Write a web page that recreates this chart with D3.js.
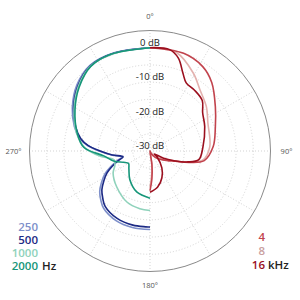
<!DOCTYPE html>
<html>
<head>
<meta charset="utf-8">
<script src="https://cdn.jsdelivr.net/npm/d3@7"></script>
<style>
  body { margin: 0; background: #fff; }
  svg { display: block; font-family: "Open Sans", "DejaVu Sans", sans-serif; }
</style>
</head>
<body>
<div id="chart"></div>
<script>
// angles in degrees from front (0) to back (180), values in dB
// left half: low frequencies, drawn counter-clockwise
var hz250 = [[0,0],[20,0.4],[35,0.4],[48,-1.4],[61,-4.2],[72,-6.9],[80,-9.3],[85,-11.8],[90,-15.3],[96,-18.8],[102,-21.6],[107,-19.8],[112,-17.6],[117,-15.3],[123,-13.2],[129,-11.2],[135,-9.8],[141,-8.6],[154,-7.5],[167,-7.2],[180,-7.2]];
var hz500 = [[0,0],[20,0.3],[35,0.2],[48,-1.8],[61,-4.6],[72,-7.3],[80,-9.6],[85,-12],[90,-15.5],[96,-19],[102,-22],[107,-20.3],[112,-18.2],[117,-16],[123,-14],[129,-12],[135,-10.6],[141,-9.3],[154,-8.2],[167,-7.9],[180,-7.9]];
var hz1000 = [[0,0],[20,0.2],[35,0.1],[48,-2],[61,-4.8],[76,-8],[87,-11],[96,-15.5],[104,-19.3],[112,-19],[121,-17.5],[137,-15.8],[156,-13.7],[170,-13],[180,-12.7]];
var hz2000 = [[0,0],[22,0.3],[35,0],[48,-2.3],[61,-5.1],[76,-8.2],[87,-10.8],[96,-16.5],[106,-19.2],[113,-21.6],[120,-22.8],[130,-22],[145,-19.8],[162,-17.5],[180,-16.3]];
// right half: high frequencies, drawn clockwise
var khz4 = [[0,0],[19,0],[32,-1.1],[42,-3.2],[56,-7.1],[70,-9.8],[86,-11.6],[100,-14],[106,-18],[112,-22],[125,-25.5],[140,-27.5],[155,-29.2],[166,-30],[172,-26],[176,-22],[180,-18.5]];
var khz8 = [[0,0],[15,-0.4],[29,-4.1],[39,-7],[52,-9.2],[64,-11.3],[86,-12.6],[100,-14.5],[106,-18.2],[112,-22.5],[125,-26],[140,-28],[155,-29.5],[166,-30],[173,-25],[180,-19.5]];
var khz16 = [[0,0],[11,0],[17,-1.8],[23,-5.5],[28,-7.6],[36,-8.1],[46,-8.9],[54,-11.1],[66,-12.6],[86,-14.6],[100,-15.6],[106,-18.5],[112,-22.5],[118,-25.5],[124,-28.5],[130,-27.3],[145,-24],[156,-21.5],[168,-19.3],[180,-18]];

var ringLevels = [-25, -20, -15, -10, -5, 0];
var dbLabels = [0, -10, -20, -30];
var spokeAngles = d3.range(0, 360, 30);
var angleLabels = [0, 90, 180, 270];

var width = 300, height = 300,
    cx = 150, cy = 151;

var r = d3.scaleLinear().domain([-30, 5]).range([0, 120.5]);

var svg = d3.select("#chart").append("svg")
    .attr("width", width)
    .attr("height", height);

var g = svg.append("g").attr("transform", "translate(" + cx + "," + cy + ")");

// grid
g.selectAll(".ring")
    .data(ringLevels)
    .enter().append("circle")
    .attr("r", function(d) { return r(d); })
    .attr("fill", "none")
    .attr("stroke", "#c8c8c8")
    .attr("stroke-width", 0.8)
    .attr("stroke-dasharray", "1,2");

g.selectAll(".spoke")
    .data(spokeAngles)
    .enter().append("line")
    .attr("x1", 0).attr("y1", 0)
    .attr("x2", function(d) { return r(5) * Math.sin(d * Math.PI / 180); })
    .attr("y2", function(d) { return -r(5) * Math.cos(d * Math.PI / 180); })
    .attr("stroke", "#c8c8c8")
    .attr("stroke-width", 0.8)
    .attr("stroke-dasharray", "1,2");

g.append("circle")
    .attr("r", r(5))
    .attr("fill", "none")
    .attr("stroke", "#8a8a8a")
    .attr("stroke-width", 1);

// curves
function line(side) {
    return d3.lineRadial()
        .angle(function(d) { return side * d[0] * Math.PI / 180; })
        .radius(function(d) { return r(Math.max(-30, d[1])); })
        .curve(d3.curveCatmullRom.alpha(0.5));
}

var series = [
    { data: hz250, side: -1, color: "#7d8fca" },
    { data: hz500, side: -1, color: "#1c2a85" },
    { data: hz1000, side: -1, color: "#8fd2bb" },
    { data: hz2000, side: -1, color: "#169679" },
    { data: khz8, side: 1, color: "#e3b1ae" },
    { data: khz4, side: 1, color: "#c2434d" },
    { data: khz16, side: 1, color: "#9b0f1e" }
];

g.selectAll(".curve")
    .data(series)
    .enter().append("path")
    .attr("d", function(d) { return line(d.side)(d.data); })
    .attr("fill", "none")
    .attr("stroke", function(d) { return d.color; })
    .attr("stroke-width", 1.6);

// dB labels
g.selectAll(".dblabel")
    .data(dbLabels)
    .enter().append("text")
    .attr("x", 0)
    .attr("y", function(d) { return -r(d) - 2; })
    .attr("text-anchor", "middle")
    .attr("font-size", 9.5)
    .attr("fill", "#222")
    .text(function(d) { return d + " dB"; });

// angle labels
g.selectAll(".anglabel")
    .data(angleLabels)
    .enter().append("text")
    .attr("x", function(d) { return (r(5) + 16) * Math.sin(d * Math.PI / 180); })
    .attr("y", function(d) { return -(r(5) + 14) * Math.cos(d * Math.PI / 180); })
    .attr("dy", "0.35em")
    .attr("text-anchor", "middle")
    .attr("font-size", 7.5)
    .attr("fill", "#555")
    .text(function(d) { return d + "°"; });

// legends
var lowNames = ["250", "500", "1000", "2000"];
var lowColors = ["#7d8fca", "#1c2a85", "#8fd2bb", "#169679"];
var highNames = ["4", "8", "16"];
var highColors = ["#c2434d", "#c9a0a0", "#9b0f1e"];

svg.selectAll(".lowleg")
    .data(lowNames)
    .enter().append("text")
    .attr("x", 38)
    .attr("y", function(d, i) { return 231 + i * 13; })
    .attr("text-anchor", "end")
    .attr("font-size", 11.5)
    .attr("font-weight", 600)
    .attr("fill", function(d, i) { return lowColors[i]; })
    .text(function(d) { return d; });

svg.append("text")
    .attr("x", 42).attr("y", 231 + 3 * 13)
    .attr("font-size", 11.5).attr("font-weight", 600)
    .attr("fill", "#222")
    .text("Hz");

svg.selectAll(".highleg")
    .data(highNames)
    .enter().append("text")
    .attr("x", 265)
    .attr("y", function(d, i) { return 241 + i * 14; })
    .attr("text-anchor", "end")
    .attr("font-size", 11.5)
    .attr("font-weight", 600)
    .attr("fill", function(d, i) { return highColors[i]; })
    .text(function(d) { return d; });

svg.append("text")
    .attr("x", 268).attr("y", 241 + 2 * 14)
    .attr("font-size", 11.5).attr("font-weight", 600)
    .attr("fill", "#222")
    .text("kHz");
</script>
</body>
</html>
